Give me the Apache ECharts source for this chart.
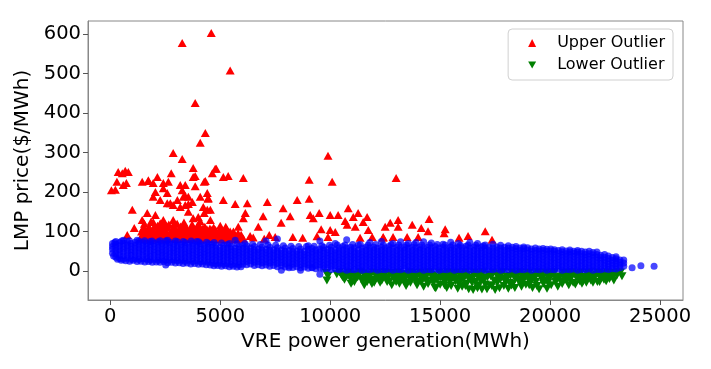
<!DOCTYPE html>
<html>
<head>
<meta charset="utf-8">
<script src="https://cdn.jsdelivr.net/npm/echarts@6/dist/echarts.min.js"></script>
<style>html,body{margin:0;padding:0;background:#fff}#c{width:711px;height:369px}</style>
</head>
<body>
<div id="c"></div>
<script>
const xTicks = [0, 5000, 10000, 15000, 20000, 25000];
const yTicks = [0, 100, 200, 300, 400, 500, 600];

// Normal points, read column by column: [x, y1, y2, ...]
const blueLeft = [
[100,45,55,62,70],[250,35,44,52,60,68,75],[420,32,40,48,56,64,72],[600,30,38,47,55,63,71,78],
[780,33,41,50,58,66,74],[950,30,39,46,54,62,70],[1130,32,40,49,57,65,73],[1300,29,37,45,53,61,69,76],
[1480,31,40,48,56,64,72],[1650,30,38,46,55,63,71],[1820,28,36,44,52,60,68,75],[2000,30,39,47,55,63,71],
[2180,27,35,43,51,59,67,74],[2350,29,38,46,54,62,70],[2520,15,28,36,44,52,60,68,76],[2700,27,35,43,51,59,67,73],
[2880,28,37,45,53,61,69],[3050,26,34,42,50,58,66,74],[3230,27,35,44,52,60,68],[3400,25,33,41,49,57,65,72],
[3580,27,36,44,52,60,69],[3750,24,32,40,48,56,64,71],[3930,26,34,42,50,58,66,75],[4100,23,31,39,47,55,63,70],
[4280,25,33,41,49,57,65],[4450,22,30,38,46,54,62,70],[4630,20,28,36,44,52,60,68],[4800,18,26,34,42,50,58,66],
[4980,20,28,36,44,52,60],[5150,17,25,33,41,49,57,65],[5330,19,27,35,43,51,59,67],[5500,16,24,32,40,48,56,63],
[5680,18,26,34,42,50,58,78],[5850,15,23,31,39,47,55,62],[6030,17,25,33,41,49,57,65]
];
const blueMid = [
[6200,16,24,32,40,48,56,64],[6380,18,26,34,42,50,58],[6550,14,22,30,38,46,54,62],[6730,16,24,32,40,48,56],
[6900,13,21,29,37,45,53,61],[7080,15,23,31,39,47,55,76],[7250,12,20,28,36,44,52,60],[7430,14,22,30,38,46,54],
[7600,11,19,27,35,43,51,59,81],[7780,2,13,21,29,37,45,53],[7950,10,18,26,34,42,50,58],[8130,8,12,20,28,36,44,52],
[8300,9,17,25,33,41,49,57],[8480,11,19,27,35,43,51],[8650,2,8,16,24,32,40,48,56],[8830,10,18,26,34,42,50],
[9000,7,15,23,31,39,47,55,64],[9180,8,9,17,25,33,41,49,57],[9350,6,14,22,30,38,46,54],[9530,-8,8,16,24,32,40,48,56,76],
[9700,5,13,21,29,37,45,53,60],[9880,7,15,23,31,39,47,55],[10050,4,12,20,28,36,44,52,60],[10230,6,14,22,30,38,46,54,70],
[10400,3,11,19,27,35,43,51,59],[10580,5,13,21,29,37,45,53,62],[10750,2,10,18,26,34,42,50,58,79],[10930,4,12,20,28,36,44,52,60],
[11100,3,11,19,27,35,43,51,59],[11280,5,13,21,29,37,45,53,66],[11450,2,10,18,26,34,42,50,58],[11630,4,12,20,28,36,44,52,60],
[11800,3,11,19,27,35,43,51,59,72],[11980,5,13,21,29,37,45,53,61],[12150,2,10,18,26,34,42,50,58],[12330,4,12,20,28,36,44,52,60,75],
[12500,3,11,19,27,35,43,51,59],[12680,5,13,21,29,37,45,53,62],[12850,2,10,18,26,34,42,50,58,70]
];
const blueRight = [
[13030,4,12,20,28,36,44,52,60],[13200,3,11,19,27,35,43,51,59,74],[13380,5,13,21,29,37,45,53,61],[13550,2,10,18,26,34,42,50,58,70],
[13730,4,12,20,28,36,44,52,60],[13900,3,11,19,27,35,43,51,59,72],[14080,5,13,21,29,37,45,53,61],[14250,2,10,18,26,34,42,50,58,74],
[14430,4,12,20,28,36,44,52,60],[14600,3,11,19,27,35,43,51,59,71],[14780,5,13,21,29,37,45,53,62],[14950,2,10,18,26,34,42,50,58],
[15130,4,12,20,28,36,44,52,60,68],[15300,3,11,19,27,35,43,51,59],[15480,5,13,21,29,37,45,53,61,73],[15650,2,10,18,26,34,42,50,58],
[15830,4,12,20,28,36,44,52,60,70],[16000,3,11,19,27,35,43,51,59],[16180,5,13,21,29,37,45,53,63],[16350,2,10,18,26,34,42,50,58,72],
[16530,4,12,20,28,36,44,52,60],[16700,3,11,19,27,35,43,51,59,70],[16880,5,13,21,29,37,45,53,61],[17050,2,10,18,26,34,42,50,58,66],
[17230,4,12,20,28,36,44,52,60],[17400,3,11,19,27,35,43,51,59,68],[17580,5,13,21,29,37,45,53,61],[17750,2,10,18,26,34,42,50,58,65],
[17930,4,12,20,28,36,44,52,60],[18100,3,11,19,27,35,43,51,58,64],[18280,5,13,21,29,37,45,53,60],[18450,2,10,18,26,34,42,50,57,62],
[18630,4,12,20,28,36,44,52,58],[18800,3,11,19,27,35,43,51,57,61],[18980,5,13,21,29,37,45,53,59],[19150,2,10,18,26,34,42,50,56],
[19330,4,12,20,28,36,44,52,58],[19500,3,11,19,27,35,43,51,56],[19680,5,13,21,29,37,45,52,57],[19850,2,10,18,26,34,42,50,55],
[20030,4,12,20,28,36,44,51,56],[20200,3,11,19,27,35,43,50,54],[20380,5,13,21,29,37,45,52],[20550,2,10,18,26,34,42,49,54],
[20730,4,12,20,28,36,44,51],[20900,3,11,19,27,35,43,49,53],[21080,5,13,21,29,37,45,50],[21250,2,10,18,26,34,42,48,52],
[21430,4,12,20,28,36,44,50],[21600,3,11,19,27,35,42,48],[21780,5,13,21,29,37,44,50],[21950,2,10,18,26,34,41,47],
[22130,4,12,20,28,35,42,48],[22300,3,11,19,27,34,40],[22480,5,13,21,28,35,42],[22650,4,11,18,25,32,38],
[22830,6,13,20,27,34],[23000,5,12,19,26,31,36],[23180,8,15,22,28],[23350,12,20,28],[23730,8],[24130,13],[24730,12]
];
// extra normal points along the band edges [x, y]
const blueEdge = [
[150,38],[330,30],[500,27],[700,26],[880,25],[1050,27],[1220,24],[1400,25],[1570,23],[1740,24],[1910,22],[2090,23],
[2260,22],[2430,24],[2610,21],[2790,22],[2960,20],[3140,21],[3310,19],[3490,20],[3660,18],[3840,19],[4010,17],[4190,18],
[4360,16],[4540,15],[4710,13],[4890,14],[5060,12],[5240,13],[5410,11],[5590,12],[5760,10],[5940,11],
[200,72],[520,76],[870,77],[1220,78],[1560,77],[1900,76],[2270,77],[2600,78],[2960,76],[3320,75],[3680,76],[4020,74],
[4380,73],[4720,72],[5060,71],[5420,70],[5760,69],[6120,70],[6470,68],[6820,67],[7170,66],[7520,65],[7870,64],[8220,63],
[8570,62],[8920,62],[9270,63],[9620,64],[9970,65],[10320,66],[10670,66],[11020,67],[11370,67],[11720,66],[12070,67],
[12420,66],[12770,67],[13120,66],[13470,66],[13820,67],[14170,66],[14520,66],[14870,67],[15220,66],[15570,66],[15920,65],
[16270,66],[16620,65],[16970,64]
];

// Upper outliers [x, y]
const upperSparse = [
[50,205],[230,206],[300,226],[360,251],[545,248],[680,254],[820,251],[730,223],[590,218],[1000,155],[1090,109],[770,91],
[1450,226],[1730,228],[1950,223],[2140,238],[2410,223],[2640,226],[2770,248],[2860,299],[3270,284],[3270,578],[3770,261],
[3860,241],[3860,215],[3860,426],[4090,325],[4320,350],[4640,248],[4820,259],[4590,603],[5140,238],[5360,241],[5450,508],
[4270,226],[3180,218],[3410,218],[3550,188],[3320,188],[3050,180],[2590,198],[2730,172],[2270,180],[2050,200],[1950,188],
[2410,210],[2590,172],[3270,205],[3410,167],[3550,170],[3730,175],[3410,190],[4090,188],[4410,198],[4450,185],[4230,162],
[4410,155],[4550,155],[4270,147],[4550,129],[4000,137],[3770,134],[3550,150],[3180,162],[2860,167],[2410,129],[2050,142],
[1680,147],[1450,129],[1500,109],[1950,124],[2270,121],[2860,129],[3320,111],[3730,109],[4090,126],[4590,104],[5140,180],
[5680,170],[4770,259],[6050,236],[3770,238],[4320,228],[1730,230]
];
const upperFar = [
[9900,292],[10090,226],[9045,231],[8500,180],[9045,183],[7140,175],[7860,159],[8180,139],[7770,122],[6230,172],[6140,147],
[6050,134],[5820,112],[4450,183],[6950,139],[6730,112],[6360,89],[7230,91],[9090,142],[9500,147],[9230,134],[9590,106],
[9900,86],[10230,99],[10360,142],[10000,142],[10820,159],[11270,147],[11050,137],[11680,137],[11500,124],[11730,104],
[11140,112],[10770,117],[11360,84],[11910,86],[12410,86],[12500,112],[10680,127],[10000,104],[13000,236],[12730,122],
[13090,129],[13090,112],[13730,117],[14140,109],[14500,132],[14450,101],[15230,106],[15180,96],[15860,84],[16270,89],
[17050,101],[17360,79],[14000,86],[13500,86],[12860,86],[12410,84],[8300,86],[8750,84],[9400,88]
];
const upperBand = [
[1400,85],[1480,95],[1550,82],[1620,100],[1700,88],[1760,112],[1830,80],[1900,94],[1960,104],[2030,84],[2100,97],
[2150,115],[2220,82],[2290,90],[2350,104],[2420,86],[2480,96],[2550,80],[2610,110],[2680,88],[2740,98],[2810,83],
[2880,106],[2940,92],[3000,81],[3070,100],[3130,87],[3200,113],[3260,95],[3330,82],[3390,101],[3460,88],[3520,97],
[3590,81],[3650,92],[3720,118],[3780,85],[3850,99],[3910,83],[3980,108],[4040,90],[4110,80],[4170,96],[4240,86],
[4300,112],[4370,83],[4430,93],[4500,81],[4560,99],[4630,86],[4690,82],[4760,95],[4820,80],[4890,88],[4950,101],
[5020,82],[5080,91],[5150,80],[5210,86],[5280,97],[5350,81],[5410,90],[5480,80],[5550,85],[5620,95],[5700,82],
[5780,88],[5860,80],[5950,92],[6050,82],[1550,120],[1850,125],[2200,100],[2500,118],[2900,120],[3100,92],[3350,123],
[3650,105],[4000,118],[4400,105],[4700,110],[5000,115],[5300,106],[5600,100],[1600,90],[2000,90],[2400,95],[2800,93],
[3200,85],[3600,88],[4200,100],[4650,93],[5100,100],[5500,92],[6500,85],[7000,82],[7500,86]
];
const upperBand2 = [
[1420,100],[1520,110],[1640,84],[1720,96],[1800,104],[1880,86],[1990,112],[2060,92],[2130,83],[2250,108],[2320,84],
[2390,114],[2460,90],[2530,102],[2590,86],[2660,118],[2720,84],[2790,104],[2850,90],[2920,110],[2980,86],[3040,120],
[3110,96],[3170,84],[3240,104],[3300,90],[3370,116],[3440,84],[3500,106],[3570,92],[3630,84],[3700,100],[3760,112],
[3830,88],[3890,106],[3950,84],[4020,98],[4080,110],[4140,86],[4210,108],[4270,92],[4340,84],[4400,96],[4470,88],
[4530,108],[4600,84],[4660,100],[4730,88],[4790,104],[4860,84],[4920,94],[4990,86],[5050,106],[5120,88],[5190,84],
[5250,112],[5320,88],[5380,84],[5450,100],[5520,86],[5580,84],[5650,90],[5730,84],[5810,96],[5900,84]
];

// Lower outliers [x, y]
const lowerDeep = [
[9820,-5],[9850,-24],[9900,-12],[10300,-8],[10680,-10],[10950,-32],[11000,-26],[11230,-10],[11400,-20],[11550,-36],
[11680,-28],[11800,-12],[11900,-33],[12050,-23],[12150,-6],[12270,-30],[12400,-15],[12590,-28],[12700,-5],[12800,-36],
[12900,-20],[13050,-18],[13150,-32],[13250,-8],[13350,-25],[13450,-38],[13550,-12],[13650,-30],[13750,-5],[13850,-22],
[13950,-36],[14050,-10],[14150,-28],[14250,-40],[14350,-15],[14450,-33],[14550,-5],[14650,-25],[14750,-42],[14800,-44],
[14900,-18],[15000,-35],[15100,-8],[15200,-28],[15300,-43],[15400,-15],[15500,-38],[15600,-6],[15700,-26],[15800,-45],
[15900,-20],[16000,-40],[16100,-10],[16200,-32],[16300,-46],[16400,-18],[16500,-48],[16600,-28],[16700,-44],[16800,-8],
[16900,-47],[17000,-22],[17130,-46],[17250,-36],[17350,-12],[17500,-48],[17600,-30],[17700,-44],[17800,-5],[17900,-38],
[18000,-20],[18100,-45],[18200,-12],[18300,-33],[18400,-43],[18500,-8],[18600,-28],[18700,-40],[18800,-15],[18900,-35],
[19000,-5],[19100,-30],[19200,-43],[19300,-18],[19400,-38],[19500,-46],[19600,-10],[19700,-32],[19860,-45],[19950,-20],
[20050,-36],[20150,-6],[20250,-28],[20350,-40],[20450,-14],[20550,-33],[20650,-5],[20750,-25],[20850,-36],[20950,-12],
[21050,-30],[21150,-34],[21250,-8],[21350,-26],[21450,-32],[21550,-15],[21650,-30],[21750,-5],[21850,-24],[21950,-30],
[22050,-12],[22150,-28],[22250,-28],[22350,-8],[22450,-22],[22550,-26],[22650,-15],[22750,-5],[22900,-24],[23050,-10],
[23270,-13],[23200,-4]
];
const lowerTop = [
[10420,-3],[10560,-15],[10830,-4],[11120,-17],[11350,-3],[11620,-14],[11950,-4],[12200,-16],[12480,-3],[12620,-18],
[12950,-5],[13100,-4],[13400,-16],[13600,-3],[13900,-15],[14100,-4],[14300,-18],[14500,-3],[14700,-14],[14950,-4],
[15150,-16],[15350,-3],[15550,-18],[15750,-4],[15950,-14],[16150,-3],[16350,-17],[16550,-4],[16750,-15],[16950,-3],
[17150,-16],[17400,-4],[17650,-18],[17850,-3],[18050,-15],[18250,-4],[18450,-17],[18650,-3],[18850,-14],[19050,-4],
[19250,-16],[19450,-3],[19650,-18],[19800,-4],[20000,-15],[20200,-3],[20400,-17],[20600,-4],[20800,-15],[21000,-3],
[21200,-16],[21400,-4],[21600,-17],[21800,-3],[22000,-15],[22200,-4],[22400,-14],[22600,-3],[22850,-12],[23100,-3]
];
const lowerFill = [
[10500,-9],[10650,-22],[10900,-18],[11100,-28],[11300,-9],[11500,-24],[11700,-8],[11850,-22],[12000,-30],[12200,-10],
[12350,-24],[12500,-9],[12700,-26],[12850,-10],[13000,-28],[13200,-21],[13300,-9],[13500,-30],[13650,-20],[13800,-9],
[14000,-27],[14200,-9],[14400,-24],[14600,-10],[14700,-30],[14850,-22],[15050,-9],[15250,-20],[15450,-27],[15650,-9],
[15850,-33],[16050,-22],[16250,-9],[16450,-30],[16650,-9],[16850,-25],[17050,-34],[17200,-9],[17450,-24],[17700,-9],
[17950,-26],[18150,-30],[18350,-9],[18550,-22],[18750,-28],[18950,-9],[19150,-22],[19350,-28],[19550,-9],[19750,-24],
[19900,-30],[20100,-9],[20300,-22],[20500,-26],[20700,-9],[20900,-22],[21100,-9],[21300,-20],[21500,-26],[21700,-9],
[21900,-18],[22100,-9],[22300,-20],[22500,-9],[22700,-20],[22950,-8],[11000,-8],[11500,-6],[12800,-7],[14300,-8],
[15900,-8],[17550,-7],[19400,-8],[21000,-8],[22200,-6]
];
const lowerFill2 = [
[10750,-14],[11250,-16],[11750,-18],[12100,-13],[12550,-19],[13050,-12],[13350,-17],[13700,-13],[14150,-18],[14650,-12],
[15000,-17],[15400,-12],[15700,-19],[16000,-13],[16300,-20],[16550,-12],[16900,-18],[17300,-13],[17750,-20],[18100,-13],
[18400,-19],[18700,-12],[19000,-18],[19300,-12],[19600,-19],[19950,-12],[20250,-17],[20600,-12],[20950,-18],[21300,-12],
[21650,-18],[22000,-12],[22350,-16],[22750,-12],[15200,-36],[16150,-38],[16750,-36],[17350,-38],[18250,-37],[19050,-36]
];

function cols(list){ const out=[]; list.forEach(c=>{ for(let i=1;i<c.length;i++) out.push([c[0],c[i]]); }); return out; }
const blueData = cols(blueLeft).concat(cols(blueMid), cols(blueRight), blueEdge);
const upperData = upperSparse.concat(upperFar, upperBand, upperBand2);
const lowerData = lowerDeep.concat(lowerTop, lowerFill, lowerFill2);

const FONT = 'DejaVu Sans';
const chart = echarts.init(document.getElementById('c'), null, {renderer:'canvas'});
chart.setOption({
  animation: false,
  backgroundColor: '#fff',
  grid: {left: 88, right: 28, top: 21, bottom: 69, show: true, borderColor: '#888', borderWidth: 1, backgroundColor: 'transparent'},
  legend: {
    orient: 'vertical', right: 38, top: 29,
    data: ['Upper Outlier', 'Lower Outlier'],
    itemWidth: 8, itemHeight: 8, itemGap: 6,
    padding: [6, 8, 7, 20],
    backgroundColor: '#fff', borderColor: '#d0d0d0', borderWidth: 1, borderRadius: 4,
    textStyle: {fontFamily: FONT, fontSize: 16, color: '#000', padding: [0, 0, 0, 16]}
  },
  xAxis: {
    type: 'value', min: -1014, max: 26045,
    axisLine: {show: true, onZero: false, lineStyle: {color: '#888', width: 1}},
    axisTick: {show: true, customValues: xTicks, length: 5, lineStyle: {color: '#555'}},
    axisLabel: {customValues: xTicks, fontFamily: FONT, fontSize: 19.5, color: '#000', margin: 7,
                formatter: v => String(v)},
    splitLine: {show: false},
    name: 'VRE power generation(MWh)', nameLocation: 'middle', nameGap: 28,
    nameTextStyle: {fontFamily: FONT, fontSize: 20, color: '#000'}
  },
  yAxis: {
    type: 'value', min: -73.5, max: 633.7,
    axisLine: {show: true, onZero: false, lineStyle: {color: '#888', width: 1}},
    axisTick: {show: true, customValues: yTicks, length: 5, lineStyle: {color: '#555'}},
    axisLabel: {customValues: yTicks, fontFamily: FONT, fontSize: 19.5, color: '#000', margin: 7,
                formatter: v => String(v)},
    splitLine: {show: false},
    name: 'LMP price($/MWh)', nameLocation: 'middle', nameGap: 46,
    nameTextStyle: {fontFamily: FONT, fontSize: 20, color: '#000'}
  },
  series: [
    {name: 'Upper Outlier', type: 'scatter', data: upperData, symbol: 'triangle', symbolSize: [9, 8],
     itemStyle: {color: '#ff0000', opacity: 1}},
    {name: 'Lower Outlier', type: 'scatter', data: lowerData, symbol: 'path://M0,0 L10,0 L5,9 Z', symbolSize: [9, 8],
     itemStyle: {color: '#008000', opacity: 1}},
    {name: 'Normal', type: 'scatter', data: blueData, symbol: 'circle', symbolSize: 7,
     itemStyle: {color: '#0000ff', opacity: 0.72}}
  ]
});
</script>
</body>
</html>
